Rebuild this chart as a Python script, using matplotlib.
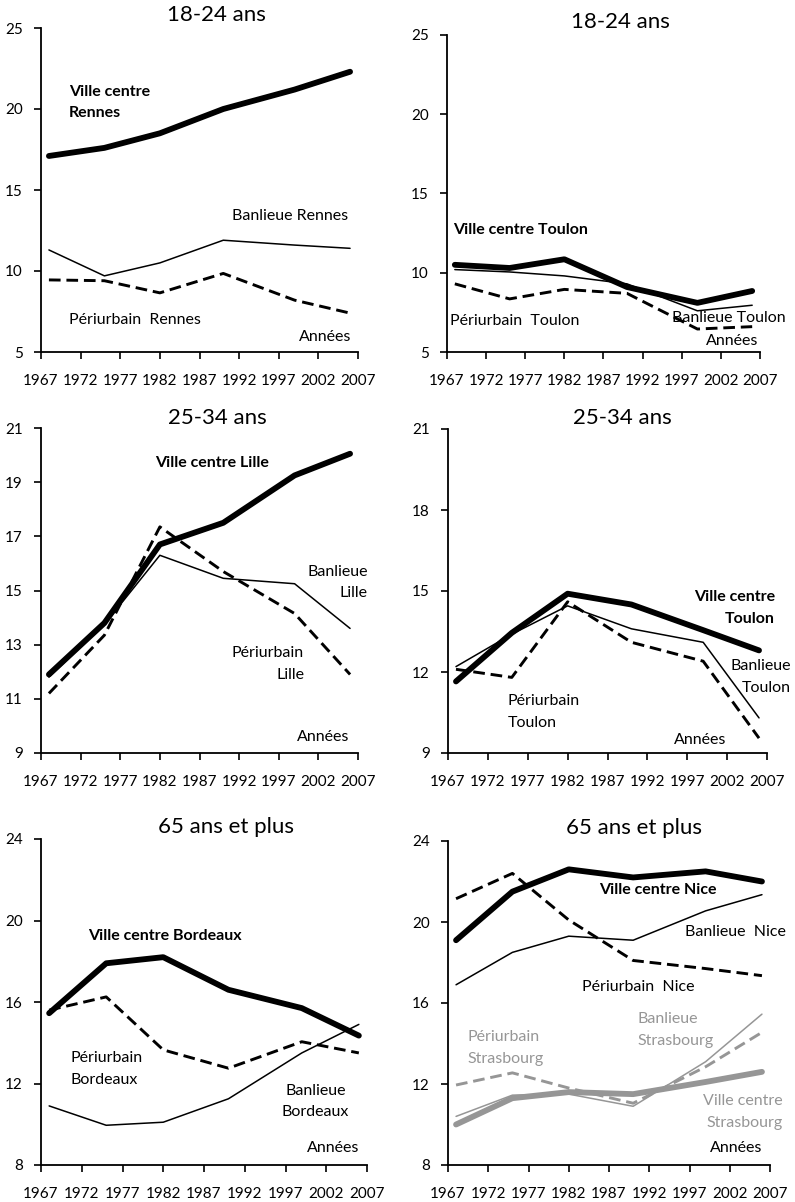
import matplotlib
matplotlib.use("Agg")
import matplotlib.pyplot as plt

plt.rcParams['font.family'] = ['Lato', 'DejaVu Sans']

years = [1968, 1975, 1982, 1990, 1999, 2006]
tick_years = [1967, 1972, 1977, 1982, 1987, 1992, 1997, 2002, 2007]

# 18-24 ans, Rennes
rennes_vc = [17.1, 17.6, 18.5, 20.0, 21.2, 22.3]
rennes_ban = [11.3, 9.7, 10.5, 11.9, 11.6, 11.4]
rennes_peri = [9.45, 9.4, 8.65, 9.85, 8.2, 7.4]

# 18-24 ans, Toulon
toulon18_vc = [10.5, 10.3, 10.85, 9.1, 8.1, 8.85]
toulon18_ban = [10.2, 10.05, 9.8, 9.3, 7.6, 7.95]
toulon18_peri = [9.3, 8.35, 8.95, 8.7, 6.45, 6.6]

# 25-34 ans, Lille
lille_vc = [11.9, 13.8, 16.7, 17.5, 19.25, 20.05]
lille_ban = [11.8, 13.75, 16.3, 15.45, 15.25, 13.6]
lille_peri = [11.2, 13.35, 17.35, 15.7, 14.15, 11.9]

# 25-34 ans, Toulon
toulon25_vc = [11.65, 13.45, 14.9, 14.5, 13.55, 12.8]
toulon25_ban = [12.2, 13.4, 14.45, 13.6, 13.1, 10.3]
toulon25_peri = [12.1, 11.8, 14.6, 13.1, 12.4, 9.55]

# 65 ans et plus, Bordeaux
bdx_vc = [15.45, 17.9, 18.2, 16.6, 15.7, 14.35]
bdx_ban = [10.9, 9.95, 10.1, 11.25, 13.5, 14.9]
bdx_peri = [15.6, 16.25, 13.65, 12.75, 14.05, 13.5]

# 65 ans et plus, Nice
nice_vc = [19.1, 21.5, 22.6, 22.2, 22.5, 22.0]
nice_ban = [16.9, 18.5, 19.3, 19.1, 20.55, 21.35]
nice_peri = [21.15, 22.4, 20.1, 18.1, 17.7, 17.35]

# 65 ans et plus, Strasbourg
stras_vc = [10.0, 11.3, 11.6, 11.5, 12.1, 12.6]
stras_ban = [10.4, 11.45, 11.5, 10.9, 13.1, 15.45]
stras_peri = [11.95, 12.55, 11.8, 11.05, 12.85, 14.55]

W, H = 795, 1202
fig = plt.figure(figsize=(W / 100, H / 100), dpi=100)

GRAY = '#969696'
TICK_FS = 11
ANN_FS = 11.5
TITLE_FS = 16
LS = 1.7


def make_ax(l, r, t, b):
    return fig.add_axes([l / W, 1 - b / H, (r - l) / W, (b - t) / H])


def style(ax, ylim, yticks):
    ax.set_xlim(1967, 2007)
    ax.set_ylim(*ylim)
    ax.set_xticks(tick_years)
    ax.set_xticklabels([str(y) for y in tick_years])
    ax.set_yticks(yticks)
    for s in ['top', 'right']:
        ax.spines[s].set_visible(False)
    for s in ['left', 'bottom']:
        ax.spines[s].set_linewidth(1.3)
        ax.spines[s].set_color('black')
    ax.tick_params(axis='x', direction='out', length=5, width=1.2, pad=10.5, labelsize=TICK_FS)
    ax.tick_params(axis='y', direction='out', length=5, width=1.2, pad=8, labelsize=TICK_FS)
    ax.set_facecolor('none')


def plot3(ax, vc, ban, peri, color='black'):
    ax.plot(years, ban, color=color, lw=1.1, solid_capstyle='round', zorder=2)
    ax.plot(years, peri, color=color, lw=2.1, dashes=(4, 2), zorder=3)
    ax.plot(years, vc, color=color, lw=4.2, solid_capstyle='round', solid_joinstyle='round', zorder=4)


def title(x, y, s):
    fig.text(x / W, 1 - y / H, s, ha='center', va='center', fontsize=TITLE_FS)


# Panel 1
ax1 = make_ax(41, 358, 28, 352)
style(ax1, (5, 25), [5, 10, 15, 20, 25])
plot3(ax1, rennes_vc, rennes_ban, rennes_peri)
ax1.text(1970.5, 20.4, 'Ville centre\nRennes', fontweight='bold', fontsize=ANN_FS, ha='left', va='center', linespacing=LS)
ax1.text(1998.4, 13.4, 'Banlieue Rennes', fontsize=ANN_FS, ha='center', va='center')
ax1.text(1970.5, 6.96, 'Périurbain  Rennes', fontsize=ANN_FS, ha='left', va='center')
ax1.text(2006.2, 5.9, 'Années', fontsize=ANN_FS, ha='right', va='center')
title(216, 15, '18-24 ans')

# Panel 2
ax2 = make_ax(447, 760, 35, 352)
style(ax2, (5, 25), [5, 10, 15, 20, 25])
plot3(ax2, toulon18_vc, toulon18_ban, toulon18_peri)
ax2.text(1967.8, 12.68, 'Ville centre Toulon', fontweight='bold', fontsize=ANN_FS, ha='left', va='center')
ax2.text(1967.4, 6.96, 'Périurbain  Toulon', fontsize=ANN_FS, ha='left', va='center')
ax2.text(1995.7, 7.15, 'Banlieue Toulon', fontsize=ANN_FS, ha='left', va='center', zorder=6)
ax2.text(2003.5, 5.7, 'Années', fontsize=ANN_FS, ha='center', va='center')
title(620, 22, '18-24 ans')

# Panel 3
ax3 = make_ax(41, 358, 428, 753)
style(ax3, (9, 21), [9, 11, 13, 15, 17, 19, 21])
plot3(ax3, lille_vc, lille_ban, lille_peri)
ax3.text(1981.4, 19.7, 'Ville centre Lille', fontweight='bold', fontsize=ANN_FS, ha='left', va='center')
ax3.text(2008.2, 15.3, 'Banlieue\nLille', fontsize=ANN_FS, ha='right', va='center', linespacing=LS)
ax3.text(2000.2, 12.28, 'Périurbain\nLille', fontsize=ANN_FS, ha='right', va='center', linespacing=LS)
ax3.text(2005.9, 9.6, 'Années', fontsize=ANN_FS, ha='right', va='center')
title(217, 418, '25-34 ans')

# Panel 4
ax4 = make_ax(448, 767, 429, 753)
style(ax4, (9, 21), [9, 12, 15, 18, 21])
plot3(ax4, toulon25_vc, toulon25_ban, toulon25_peri)
ax4.text(2008.0, 14.38, 'Ville centre\nToulon', fontweight='bold', fontsize=ANN_FS, ha='right', va='center', linespacing=LS)
ax4.text(2010.0, 11.82, 'Banlieue\nToulon', fontsize=ANN_FS, ha='right', va='center', linespacing=LS)
ax4.text(1974.5, 10.51, 'Périurbain\nToulon', fontsize=ANN_FS, ha='left', va='center', linespacing=LS)
ax4.text(1995.3, 9.5, 'Années', fontsize=ANN_FS, ha='left', va='center')
title(622, 418, '25-34 ans')

# Panel 5
ax5 = make_ax(41, 367, 839, 1165)
style(ax5, (8, 24), [8, 12, 16, 20, 24])
plot3(ax5, bdx_vc, bdx_ban, bdx_peri)
ax5.text(1972.8, 19.25, 'Ville centre Bordeaux', fontweight='bold', fontsize=ANN_FS, ha='left', va='center')
ax5.text(1970.6, 12.7, 'Périurbain\nBordeaux', fontsize=ANN_FS, ha='left', va='center', linespacing=LS)
ax5.text(2000.7, 11.12, 'Banlieue\nBordeaux', fontsize=ANN_FS, ha='center', va='center', linespacing=LS)
ax5.text(2006.0, 8.82, 'Années', fontsize=ANN_FS, ha='right', va='center')
title(226, 827, '65 ans et plus')

# Panel 6
ax6 = make_ax(448, 770, 841, 1165)
style(ax6, (8, 24), [8, 12, 16, 20, 24])
plot3(ax6, stras_vc, stras_ban, stras_peri, color=GRAY)
plot3(ax6, nice_vc, nice_ban, nice_peri)
ax6.text(1985.8, 21.58, 'Ville centre Nice', fontweight='bold', fontsize=ANN_FS, ha='left', va='center')
ax6.text(1996.4, 19.52, 'Banlieue  Nice', fontsize=ANN_FS, ha='left', va='center')
ax6.text(1983.6, 16.77, 'Périurbain  Nice', fontsize=ANN_FS, ha='left', va='center')
ax6.text(1990.5, 14.65, 'Banlieue\nStrasbourg', fontsize=ANN_FS, ha='left', va='center', linespacing=LS, color=GRAY)
ax6.text(1969.4, 13.78, 'Périurbain\nStrasbourg', fontsize=ANN_FS, ha='left', va='center', linespacing=LS, color=GRAY)
ax6.text(2008.6, 10.62, 'Ville centre\nStrasbourg', fontsize=ANN_FS, ha='right', va='center', linespacing=LS, color=GRAY)
ax6.text(2006.0, 8.82, 'Années', fontsize=ANN_FS, ha='right', va='center')
title(634, 828, '65 ans et plus')

for ax in [ax1, ax2, ax3, ax4, ax5, ax6]:
    for t in ax.texts:
        t.set_clip_on(False)

fig.savefig('out.png', dpi=100, facecolor='white')
